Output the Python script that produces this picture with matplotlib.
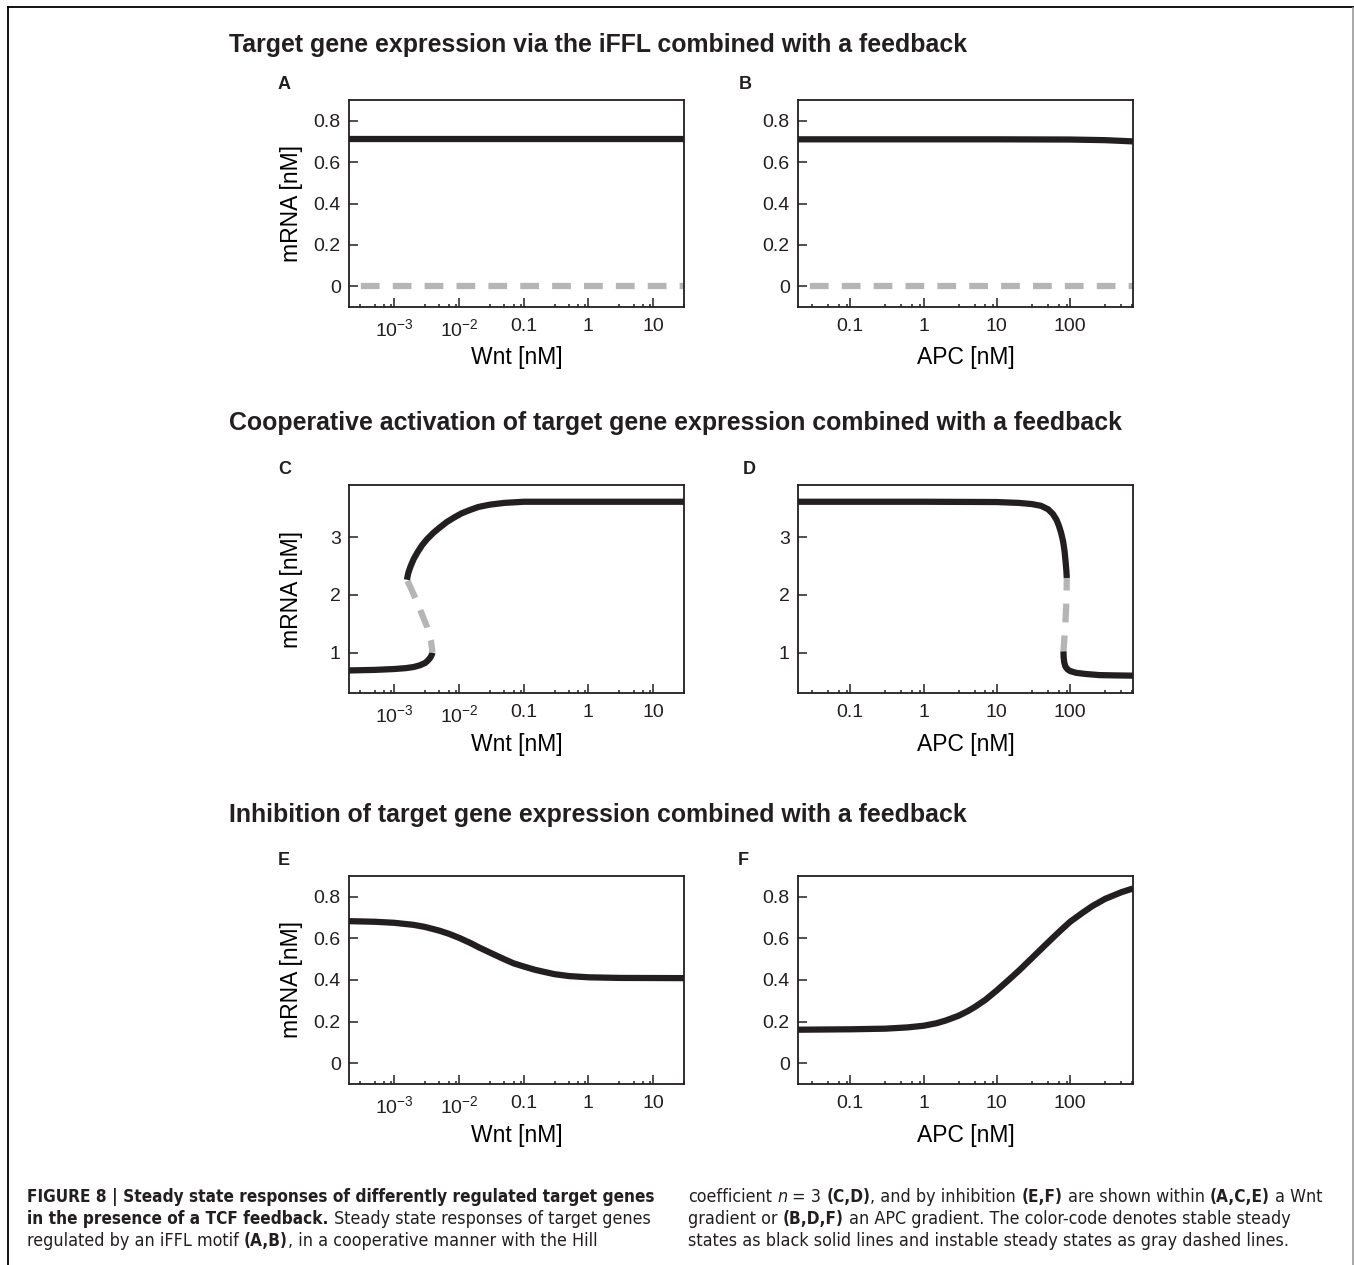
import matplotlib
matplotlib.use('Agg')
import matplotlib.pyplot as plt
from matplotlib import font_manager
from matplotlib.lines import Line2D
from matplotlib.ticker import FixedLocator, FixedFormatter, NullFormatter

# ---------------- data ----------------
wnt_ticks = [1e-3, 1e-2, 0.1, 1, 10]
wnt_ticklabels = ['$10^{-3}$', '$10^{-2}$', '0.1', '1', '10']
apc_ticks = [0.1, 1, 10, 100]
apc_ticklabels = ['0.1', '1', '10', '100']
low_yticks = [0, 0.2, 0.4, 0.6, 0.8]
low_yticklabels = ['0', '0.2', '0.4', '0.6', '0.8']
high_yticks = [1, 2, 3]
high_yticklabels = ['1', '2', '3']

# Panel A (iFFL, Wnt)
a_x = [2e-4, 30]
a_stable = [0.71, 0.71]
a_unstable = [0.0, 0.0]
# Panel B (iFFL, APC)
b_x = [0.0194, 1, 10, 100, 300, 720]
b_stable = [0.71, 0.71, 0.71, 0.709, 0.706, 0.70]
b_unstable = [0.0, 0.0, 0.0, 0.0, 0.0, 0.0]

# Panel C (cooperative, Wnt)
c_low_x = [2e-4, 5e-4, 1e-3, 1.5e-3, 2e-3, 2.5e-3, 3e-3, 3.3e-3, 3.6e-3, 3.8e-3, 3.9e-3]
c_low_y = [0.69, 0.70, 0.715, 0.73, 0.75, 0.78, 0.82, 0.86, 0.91, 0.96, 1.0]
c_mid_x = [3.9e-3, 3.7e-3, 3.2e-3, 2.6e-3, 2.1e-3, 1.75e-3, 1.57e-3]
c_mid_y = [1.0, 1.2, 1.45, 1.7, 1.95, 2.15, 2.26]
c_up_x = [1.57e-3, 1.65e-3, 1.8e-3, 2.0e-3, 2.3e-3, 2.7e-3, 3.2e-3, 4e-3, 5e-3, 6.5e-3,
          8.5e-3, 1.1e-2, 1.5e-2, 2e-2, 3e-2, 5e-2, 0.1, 1, 30]
c_up_y = [2.26, 2.38, 2.50, 2.62, 2.74, 2.86, 2.96, 3.07, 3.16, 3.26,
          3.34, 3.41, 3.47, 3.52, 3.56, 3.59, 3.61, 3.61, 3.61]

# Panel D (cooperative, APC)
d_up_x = [0.0194, 1, 10, 20, 30, 40, 50, 58, 65, 70, 75, 80, 84, 87, 89, 90]
d_up_y = [3.61, 3.61, 3.605, 3.59, 3.57, 3.54, 3.48, 3.40, 3.30, 3.20, 3.08, 2.93,
          2.75, 2.55, 2.40, 2.29]
d_mid_x = [90, 89, 86, 83, 81]
d_mid_y = [2.29, 1.9, 1.5, 1.2, 1.02]
d_low_x = [81, 81.5, 83, 86, 92, 100, 120, 160, 250, 400, 720]
d_low_y = [1.02, 0.92, 0.83, 0.76, 0.71, 0.68, 0.65, 0.63, 0.61, 0.605, 0.60]

# Panel E (inhibition, Wnt)
e_x = [2e-4, 5e-4, 1e-3, 2e-3, 3e-3, 5e-3, 7e-3, 1e-2, 1.5e-2, 2e-2, 3e-2, 5e-2,
       7e-2, 0.1, 0.15, 0.2, 0.3, 0.5, 1, 3, 30]
e_y = [0.683, 0.680, 0.675, 0.665, 0.655, 0.637, 0.622, 0.603, 0.578, 0.558, 0.532,
       0.500, 0.480, 0.465, 0.449, 0.440, 0.428, 0.419, 0.413, 0.410, 0.409]

# Panel F (inhibition, APC)
f_x = [0.0194, 0.1, 0.3, 0.6, 1, 1.5, 2, 3, 4, 5, 7, 10, 15, 20, 30, 40, 55, 75,
       100, 150, 200, 300, 500, 720]
f_y = [0.161, 0.163, 0.166, 0.172, 0.180, 0.192, 0.205, 0.228, 0.250, 0.270, 0.305,
       0.350, 0.405, 0.445, 0.505, 0.548, 0.595, 0.640, 0.680, 0.725, 0.755, 0.790,
       0.822, 0.840]

titles = ['Target gene expression via the iFFL combined with a feedback',
          'Cooperative activation of target gene expression combined with a feedback',
          'Inhibition of target gene expression combined with a feedback']
panel_letters = ['A', 'B', 'C', 'D', 'E', 'F']

# ---------------- style ----------------
BLACK = '#231f20'
GRAY = '#b5b5b7'
LW = 4.5
DASH = (0, (3.0, 2.1))

ttf = font_manager.fontManager.ttflist
names = {f.name for f in ttf}
FONT = 'Liberation Sans' if 'Liberation Sans' in names else 'DejaVu Sans'
CAP_KW = {'family': FONT}
if 'Liberation Sans Narrow' in names:
    CAP_KW = {'family': 'Liberation Sans Narrow'}
elif any('Condensed' in f.fname for f in ttf if f.name == 'DejaVu Sans'):
    CAP_KW = {'family': 'DejaVu Sans', 'stretch': 'condensed'}

plt.rcParams['font.family'] = [FONT, 'DejaVu Sans']
plt.rcParams['mathtext.fontset'] = 'custom'
plt.rcParams['mathtext.rm'] = FONT
plt.rcParams['mathtext.it'] = FONT + ':italic'
plt.rcParams['mathtext.bf'] = FONT + ':bold'

W, H = 1354, 1265
fig = plt.figure(figsize=(W / 100, H / 100), dpi=100)
renderer = fig.canvas.get_renderer()


def fx(px):
    return px / W


def fy(py):
    return 1 - py / H


def make_ax(left, top, right, bottom):
    return fig.add_axes([fx(left), fy(bottom), (right - left) / W, (bottom - top) / H])


def style_ax(ax, kind, ylow):
    ax.set_xscale('log')
    if kind == 'wnt':
        ax.set_xlim(2e-4, 30)
        ax.xaxis.set_major_locator(FixedLocator(wnt_ticks))
        ax.xaxis.set_major_formatter(FixedFormatter(wnt_ticklabels))
        ax.set_xlabel('Wnt [nM]', fontsize=16.5)
        ax.set_ylabel('mRNA [nM]', fontsize=16.5)
        ax.yaxis.set_label_coords(-0.137, 0.5)
        minors = [m * 10.0 ** e for e in range(-4, 2) for m in (3, 5, 7, 9)]
    else:
        ax.set_xlim(0.0194, 720)
        ax.xaxis.set_major_locator(FixedLocator(apc_ticks))
        ax.xaxis.set_major_formatter(FixedFormatter(apc_ticklabels))
        ax.set_xlabel('APC [nM]', fontsize=16.5)
        minors = [m * 10.0 ** e for e in range(-2, 3) for m in (3, 5, 7, 9)]
    ax.xaxis.set_label_coords(0.5, -0.19)
    ax.xaxis.set_minor_locator(FixedLocator(minors))
    ax.xaxis.set_minor_formatter(NullFormatter())
    if ylow:
        ax.set_ylim(-0.1, 0.9)
        ax.yaxis.set_major_locator(FixedLocator(low_yticks))
        ax.yaxis.set_major_formatter(FixedFormatter(low_yticklabels))
    else:
        ax.set_ylim(0.3, 3.9)
        ax.yaxis.set_major_locator(FixedLocator(high_yticks))
        ax.yaxis.set_major_formatter(FixedFormatter(high_yticklabels))
    ax.tick_params(axis='both', which='major', direction='in', length=6.5, width=1.1,
                   labelsize=14, color=BLACK, labelcolor=BLACK)
    ax.tick_params(axis='x', which='major', pad=8)
    ax.tick_params(axis='y', which='major', pad=6)
    ax.tick_params(axis='x', which='minor', direction='in', length=2.2, width=1.1, color=BLACK)
    ax.tick_params(top=False, right=False, which='both')
    for sp in ax.spines.values():
        sp.set_linewidth(1.3)
        sp.set_color(BLACK)


def solid(ax, x, y):
    ax.plot(x, y, color=BLACK, lw=LW, solid_capstyle='butt', solid_joinstyle='round')


def dashed(ax, x, y, offset=0):
    ax.plot(x, y, color=GRAY, lw=LW, linestyle=(offset, DASH[1]), dash_capstyle='butt')


# axes positions (pixels)
axA = make_ax(349, 100, 684, 307)
axB = make_ax(798, 100, 1133, 307)
axC = make_ax(349, 485, 684, 693)
axD = make_ax(798, 485, 1133, 693)
axE = make_ax(349, 876, 684, 1084)
axF = make_ax(798, 876, 1133, 1084)

style_ax(axA, 'wnt', True)
style_ax(axB, 'apc', True)
style_ax(axC, 'wnt', False)
style_ax(axD, 'apc', False)
style_ax(axE, 'wnt', True)
style_ax(axF, 'apc', True)

dashed(axA, a_x, a_unstable, offset=3.2)
solid(axA, a_x, a_stable)
dashed(axB, b_x, b_unstable, offset=3.2)
solid(axB, b_x, b_stable)

solid(axC, c_low_x, c_low_y)
dashed(axC, c_mid_x, c_mid_y, offset=1.0)
solid(axC, c_up_x, c_up_y)

solid(axD, d_up_x, d_up_y)
dashed(axD, d_mid_x, d_mid_y, offset=1.0)
solid(axD, d_low_x, d_low_y)

solid(axE, e_x, e_y)
solid(axF, f_x, f_y)

# panel letters
letter_pos = [(278, 89), (739, 89), (278, 474), (743, 474), (278, 865), (738, 865)]
for L, (px, py) in zip(panel_letters, letter_pos):
    fig.text(fx(px), fy(py), L, fontsize=13, fontweight='bold', color=BLACK,
             ha='left', va='baseline')


# titles (fitted to reference widths)
def fit_text(px, py, s, target_w, **kw):
    t = fig.text(fx(px), fy(py), s, fontsize=10, ha='left', va='baseline', **kw)
    w = t.get_window_extent(renderer).width
    t.set_fontsize(10 * target_w / w)
    return t


fit_text(229, 52, titles[0], 741, fontweight='bold', color=BLACK)
fit_text(229, 430, titles[1], 893, fontweight='bold', color=BLACK)
fit_text(229, 822, titles[2], 738, fontweight='bold', color=BLACK)


# caption
def measure(s, size, **kw):
    t = fig.text(0, 0, s, fontsize=size, **kw)
    w = t.get_window_extent(renderer).width
    t.remove()
    return w


bold_size = 10 * 626 / measure('FIGURE 8 | Steady state responses of differently regulated target genes',
                               10, fontweight='bold', **CAP_KW)
reg_size = 10 * 602 / measure('states as black solid lines and instable steady states as gray dashed lines.',
                              10, **CAP_KW)
SPACE = measure('a a', reg_size, **CAP_KW) - measure('aa', reg_size, **CAP_KW)


def draw_runs(px, py, runs):
    x = px
    for s, st in runs:
        lead = len(s) - len(s.lstrip(' '))
        trail = len(s) - len(s.rstrip(' '))
        x += lead * SPACE
        core = s.strip(' ')
        kw = dict(fontsize=reg_size, color=BLACK, ha='left', va='baseline', **CAP_KW)
        if st == 'b':
            kw['fontweight'] = 'bold'
            kw['fontsize'] = bold_size
        if st == 'i':
            kw['fontstyle'] = 'italic'
        t = fig.text(fx(x), fy(py), core, **kw)
        x += t.get_window_extent(renderer).width + trail * SPACE


left_lines = [
    [('FIGURE 8 | Steady state responses of differently regulated target genes', 'b')],
    [('in the presence of a TCF feedback.', 'b'), (' Steady state responses of target genes', 'r')],
    [('regulated by an iFFL motif ', 'r'), ('(A,B)', 'b'), (', in a cooperative manner with the Hill', 'r')],
]
right_lines = [
    [('coefficient ', 'r'), ('n', 'i'), (' = 3 ', 'r'), ('(C,D)', 'b'), (', and by inhibition ', 'r'),
     ('(E,F)', 'b'), (' are shown within ', 'r'), ('(A,C,E)', 'b'), (' a Wnt', 'r')],
    [('gradient or ', 'r'), ('(B,D,F)', 'b'), (' an APC gradient. The color-code denotes stable steady', 'r')],
    [('states as black solid lines and instable steady states as gray dashed lines.', 'r')],
]
baselines = [1202, 1224, 1246]
for runs, b in zip(left_lines, baselines):
    draw_runs(27, b, runs)
for runs, b in zip(right_lines, baselines):
    draw_runs(688, b, runs)

# page border lines
fig.add_artist(Line2D([fx(8), 1.0], [fy(7), fy(7)], color='black', lw=1.3))
fig.add_artist(Line2D([fx(8), fx(8)], [fy(7), 0.0], color='black', lw=1.3))
fig.add_artist(Line2D([fx(1352.5), fx(1352.5)], [fy(8), 0.0], color='#999999', lw=1.2))

fig.savefig('out.png', dpi=100)
